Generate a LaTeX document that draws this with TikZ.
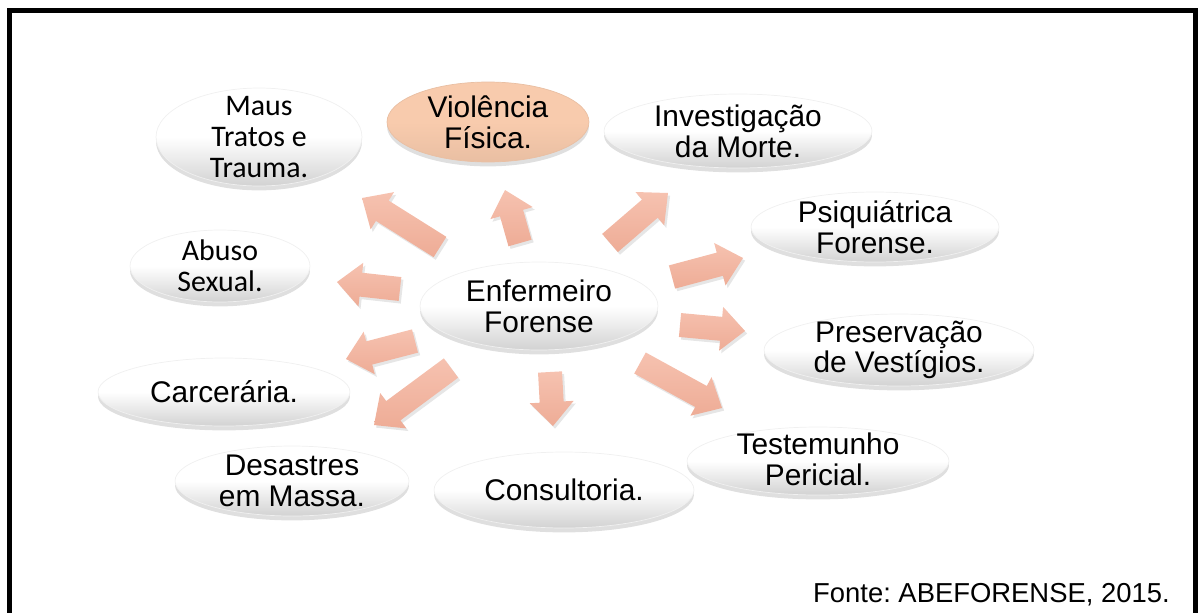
\documentclass[tikz,border=0pt]{standalone}
\usepackage{fontspec}
\setmainfont{Liberation Sans}
\newfontfamily\calibfont{Carlito}
\usepackage{tikz}
\usetikzlibrary{calc,shadows}
\definecolor{bubblegray}{RGB}{210,210,210}
\definecolor{violfill}{RGB}{248,203,173}
\definecolor{arrowtop}{RGB}{246,194,176}
\definecolor{arrowbot}{RGB}{238,172,150}

% block arrow from tail #1 to tip #2
\newcommand{\fatarrow}[2]{%
  \coordinate (hb) at ($(#2)!0.48cm!(#1)$);
  \path[fatarr] ($(#1)!0.24cm!90:(#2)$) -- ($(hb)!0.24cm!-90:(#1)$)
    -- ($(hb)!0.44cm!-90:(#1)$) -- (#2) -- ($(hb)!0.44cm!90:(#1)$)
    -- ($(hb)!0.24cm!90:(#1)$) -- ($(#1)!0.24cm!-90:(#2)$) -- cycle;
}

\begin{document}
\frenchspacing
\begin{tikzpicture}[x=0.02cm,y=-0.02cm,
    bubble/.style={top color=white,bottom color=bubblegray,middle color=white,
      draw=gray!12,line width=0.4pt,
      drop shadow={shadow xshift=0pt,shadow yshift=-2.5pt,opacity=0.25,fill=gray}},
    fatarr/.style={top color=arrowtop,bottom color=arrowbot,
      drop shadow={shadow xshift=1.2pt,shadow yshift=-1.5pt,opacity=0.2,fill=gray}},
    lbl/.style={align=center,inner sep=0pt,font=\fontsize{17}{17.5}\selectfont},
    clbl/.style={lbl,font=\calibfont\fontsize{17}{17.8}\selectfont}]
  \useasboundingbox (0,0) rectangle (1199,612);
  % frame
  \draw[line width=0.1cm] (9.5,625) -- (9.5,10.5) -- (1195,10.5) -- (1195,625);

  % bubbles
  \path[bubble] (259,137) ellipse [x radius=2.06cm,y radius=0.98cm];
  \node[clbl] (maus) at (259,137) {Maus\\Tratos e\\Trauma.};
  \path[bubble,top color=violfill,bottom color=violfill!94!black,middle color=violfill,draw=violfill!94!black]
    (488,122) ellipse [x radius=2.02cm,y radius=0.80cm];
  \node[lbl] (viol) at (488,122) {Violência\\Física.};
  \path[bubble] (738,131) ellipse [x radius=2.68cm,y radius=0.74cm];
  \node[lbl] (inv) at (738,131) {Investigação\\da Morte.};
  \path[bubble] (875,227) ellipse [x radius=2.48cm,y radius=0.70cm];
  \node[lbl] (psiq) at (875,227) {Psiquiátrica\\Forense.};
  \path[bubble] (220,266) ellipse [x radius=1.80cm,y radius=0.72cm];
  \node[clbl] (abuso) at (220,266) {Abuso\\Sexual.};
  \path[bubble] (539,306) ellipse [x radius=2.38cm,y radius=0.88cm];
  \node[lbl] (enf) at (539,306) {Enfermeiro\\Forense};
  \path[bubble] (899,350) ellipse [x radius=2.70cm,y radius=0.72cm];
  \node[lbl] (pres) at (899,350) {Preservação\\de Vestígios.};
  \path[bubble] (224,392) ellipse [x radius=2.52cm,y radius=0.68cm];
  \node[lbl] (carc) at (224,392) {Carcerária.};
  \path[bubble] (818,461) ellipse [x radius=2.62cm,y radius=0.68cm];
  \node[lbl] (test) at (818,459) {Testemunho\\Pericial.};
  \path[bubble] (292,481) ellipse [x radius=2.34cm,y radius=0.70cm];
  \node[lbl] (desas) at (292,481) {Desastres\\em Massa.};
  \path[bubble] (564,490) ellipse [x radius=2.60cm,y radius=0.76cm];
  \node[lbl] (cons) at (564,490) {Consultoria.};

  % arrow ends
  \coordinate (s-maus) at (440,247);  \coordinate (e-maus) at (362,198);
  \coordinate (s-viol) at (520,243);  \coordinate (e-viol) at (505,190);
  \coordinate (s-inv) at (610,243);   \coordinate (e-inv) at (668,193);
  \coordinate (s-abuso) at (400,289); \coordinate (e-abuso) at (337,282);
  \coordinate (s-psiq) at (672,277);  \coordinate (e-psiq) at (743,258);
  \coordinate (s-pres) at (680,325);  \coordinate (e-pres) at (745,331);
  \coordinate (s-test) at (640,363);  \coordinate (e-test) at (722,408);
  \coordinate (s-carc) at (415,341);  \coordinate (e-carc) at (346,359);
  \coordinate (s-desas) at (451,368); \coordinate (e-desas) at (374,425);
  \coordinate (s-cons) at (550,372);  \coordinate (e-cons) at (553,426);
  \foreach \n in {maus,viol,inv,abuso,psiq,pres,test,carc,desas,cons}{
    \fatarrow{s-\n}{e-\n}
  }

  \node[anchor=base east,inner sep=0pt,font=\fontsize{15.6}{18}\selectfont] (fonte)
    at (1170,602) {Fonte: ABEFORENSE, 2015.};
\end{tikzpicture}
\end{document}
